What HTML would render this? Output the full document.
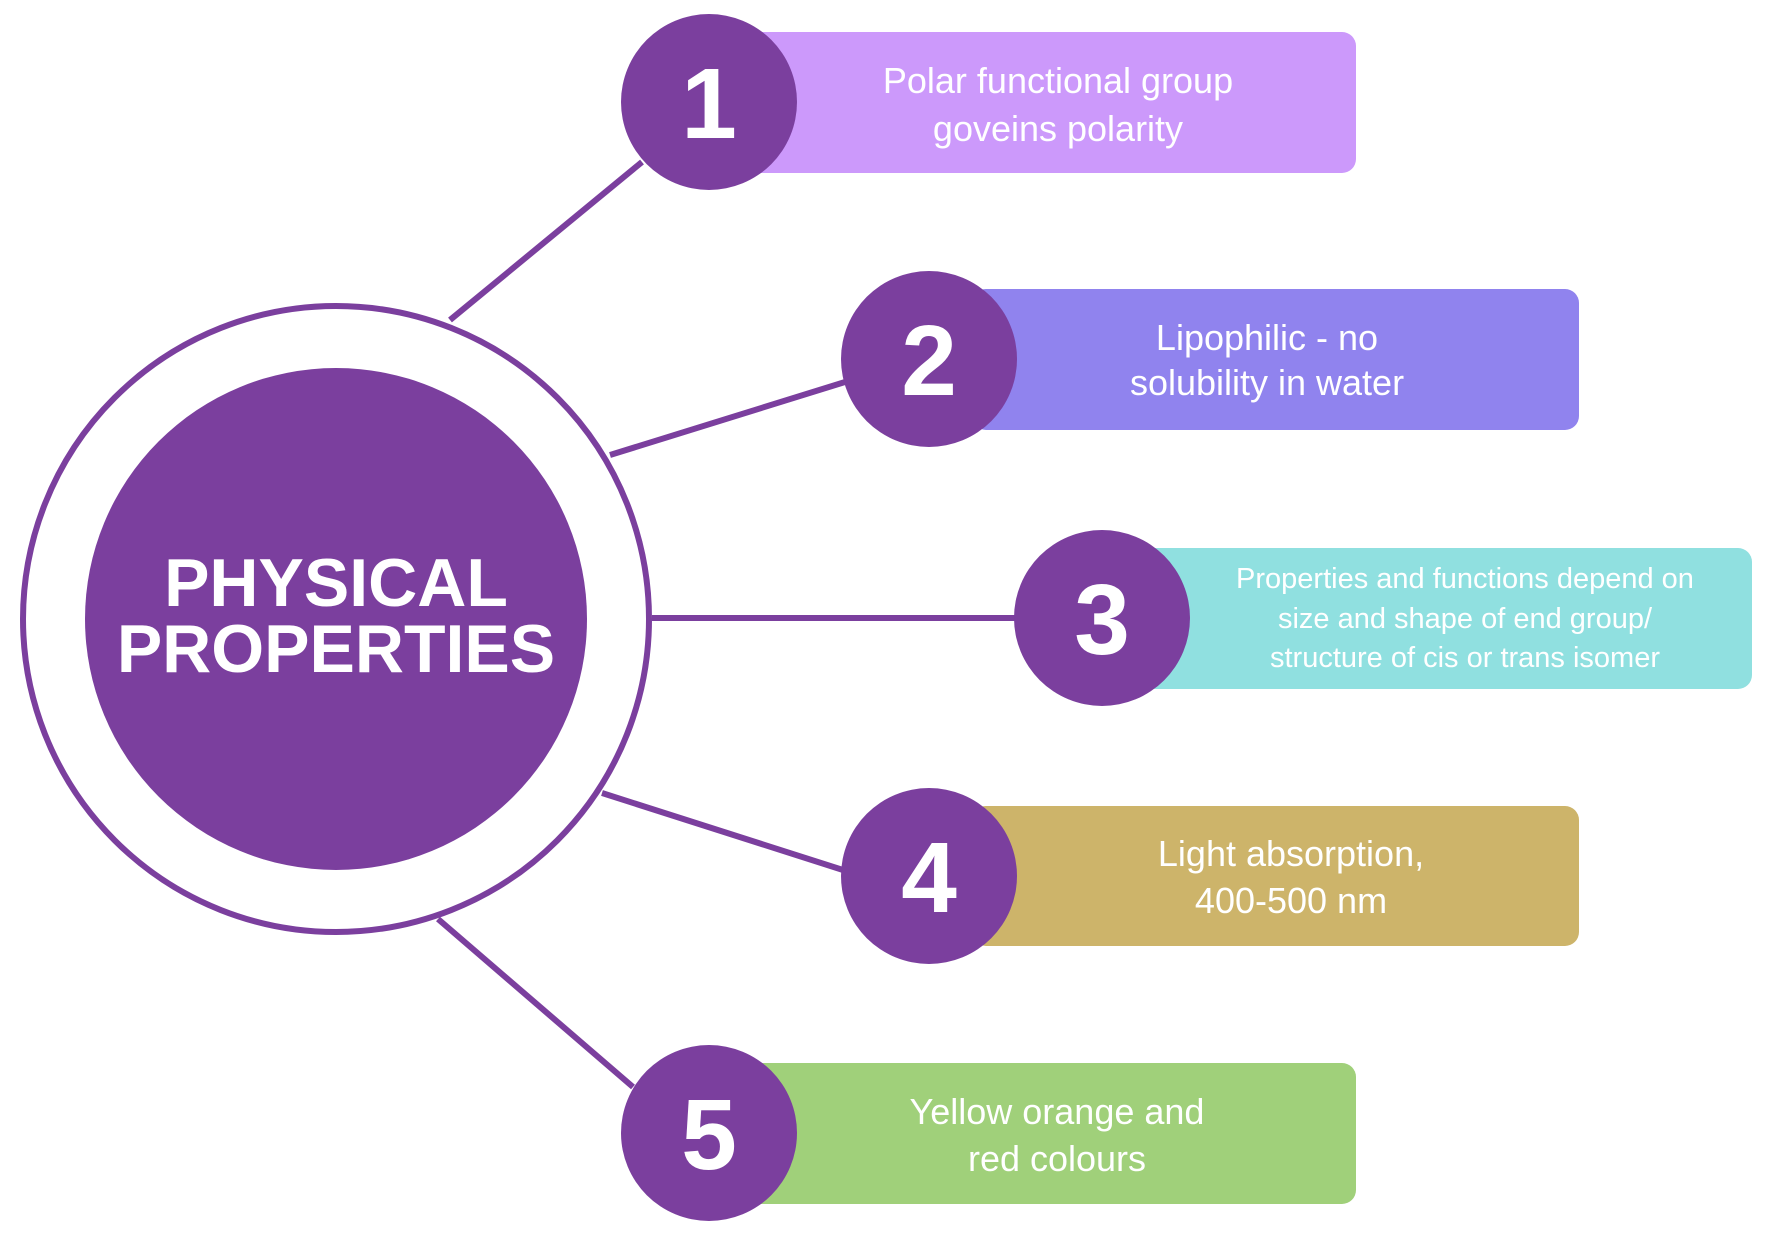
<!DOCTYPE html>
<html><head><meta charset="utf-8"><style>
html,body{margin:0;padding:0;background:#fff;}
svg{display:block;}
text{font-family:"Liberation Sans",sans-serif;fill:#fff;}
</style></head><body>
<svg width="1772" height="1241" viewBox="0 0 1772 1241" xmlns="http://www.w3.org/2000/svg">
<g stroke="#7b3f9e" stroke-width="6">
<line x1="450" y1="320" x2="642" y2="162"/>
<line x1="610" y1="455" x2="845" y2="382"/>
<line x1="652" y1="618" x2="1017" y2="618"/>
<line x1="602" y1="793" x2="843" y2="870"/>
<line x1="438" y1="919" x2="633" y2="1087"/>
</g>
<circle cx="336" cy="619" r="313" fill="#fff" stroke="#7b3f9e" stroke-width="6"/>
<circle cx="336" cy="619" r="251" fill="#7b3f9e"/>
<text x="336" y="606" font-size="68" font-weight="bold" text-anchor="middle">PHYSICAL</text>
<text x="336" y="672" font-size="68" font-weight="bold" text-anchor="middle">PROPERTIES</text>

<rect x="746" y="32" width="610" height="141" rx="14" fill="#cc99fb"/>
<rect x="972" y="289" width="607" height="141" rx="14" fill="#9083ee"/>
<rect x="1141" y="548" width="611" height="141" rx="14" fill="#90e0e0"/>
<rect x="972" y="806" width="607" height="140" rx="14" fill="#cdb46a"/>
<rect x="746" y="1063" width="610" height="141" rx="14" fill="#a0d07a"/>

<g fill="#7b3f9e">
<circle cx="709" cy="102" r="88"/>
<circle cx="929" cy="359" r="88"/>
<circle cx="1102" cy="618" r="88"/>
<circle cx="929" cy="876" r="88"/>
<circle cx="709" cy="1133" r="88"/>
</g>
<g font-size="100" font-weight="bold" text-anchor="middle">
<text x="709" y="138">1</text>
<text x="929" y="395">2</text>
<text x="1102" y="654">3</text>
<text x="929" y="912">4</text>
<text x="709" y="1169">5</text>
</g>
<g font-size="36" text-anchor="middle">
<text x="1058" y="93">Polar functional group</text>
<text x="1058" y="141">goveins polarity</text>
<text x="1267" y="350">Lipophilic - no</text>
<text x="1267" y="395">solubility in water</text>
<text x="1291" y="866">Light absorption,</text>
<text x="1291" y="913">400-500 nm</text>
<text x="1057" y="1124">Yellow orange and</text>
<text x="1057" y="1171">red colours</text>
</g>
<g font-size="29" text-anchor="middle">
<text x="1465" y="588">Properties and functions depend on</text>
<text x="1465" y="628">size and shape of end group/</text>
<text x="1465" y="667">structure of cis or trans isomer</text>
</g>
</svg>
</body></html>
